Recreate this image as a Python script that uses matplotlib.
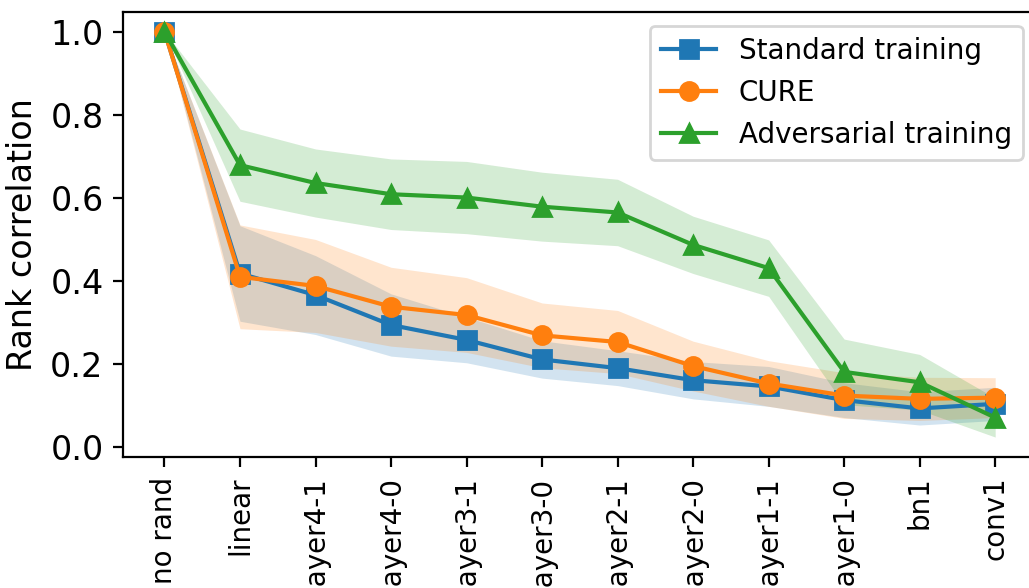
import matplotlib
matplotlib.use("Agg")
import matplotlib.pyplot as plt
import numpy as np

# Layers randomized in cascade (from none to all)
layers = ["no rand", "linear", "layer4-1", "layer4-0", "layer3-1", "layer3-0",
          "layer2-1", "layer2-0", "layer1-1", "layer1-0", "bn1", "conv1"]

# Mean rank correlation per model
standard_mean = [1.0, 0.417, 0.365, 0.293, 0.257, 0.210, 0.189, 0.160, 0.145, 0.112, 0.092, 0.103]
cure_mean = [1.0, 0.409, 0.387, 0.337, 0.317, 0.268, 0.252, 0.194, 0.152, 0.123, 0.115, 0.118]
adv_mean = [1.0, 0.678, 0.635, 0.608, 0.600, 0.578, 0.564, 0.486, 0.430, 0.180, 0.155, 0.070]

# Standard deviation across samples
standard_std = [0.0, 0.115, 0.095, 0.075, 0.055, 0.045, 0.042, 0.045, 0.048, 0.042, 0.040, 0.040]
cure_std = [0.0, 0.125, 0.112, 0.095, 0.090, 0.078, 0.076, 0.060, 0.055, 0.055, 0.052, 0.048]
adv_std = [0.0, 0.087, 0.082, 0.085, 0.087, 0.083, 0.080, 0.069, 0.068, 0.079, 0.067, 0.047]

series = [
    ("Standard training", standard_mean, standard_std, "s", "C0"),
    ("CURE", cure_mean, cure_std, "o", "C1"),
    ("Adversarial training", adv_mean, adv_std, "^", "C2"),
]

fig = plt.figure(figsize=(5.145, 2.94), dpi=200)
ax = fig.add_axes([0.1195, 0.2228, 0.888, 0.7568])

x = np.arange(len(layers))
for name, mean, std, marker, color in series:
    m = np.array(mean)
    s = np.array(std)
    ax.plot(x, m, marker=marker, markersize=6.5, color=color, label=name)
    ax.fill_between(x, m - s, m + s, color=color, alpha=0.2, linewidth=0)

ax.set_xticks(x)
ax.set_xticklabels(layers, rotation=90)
ax.tick_params(axis="y", labelsize=12)
ax.set_xlim(-0.55, 11.55)
ax.set_ylim(-0.025, 1.047)
ax.set_ylabel("Rank correlation", fontsize=12)
ax.legend(loc="upper right")

fig.savefig("out.png", dpi=200)
